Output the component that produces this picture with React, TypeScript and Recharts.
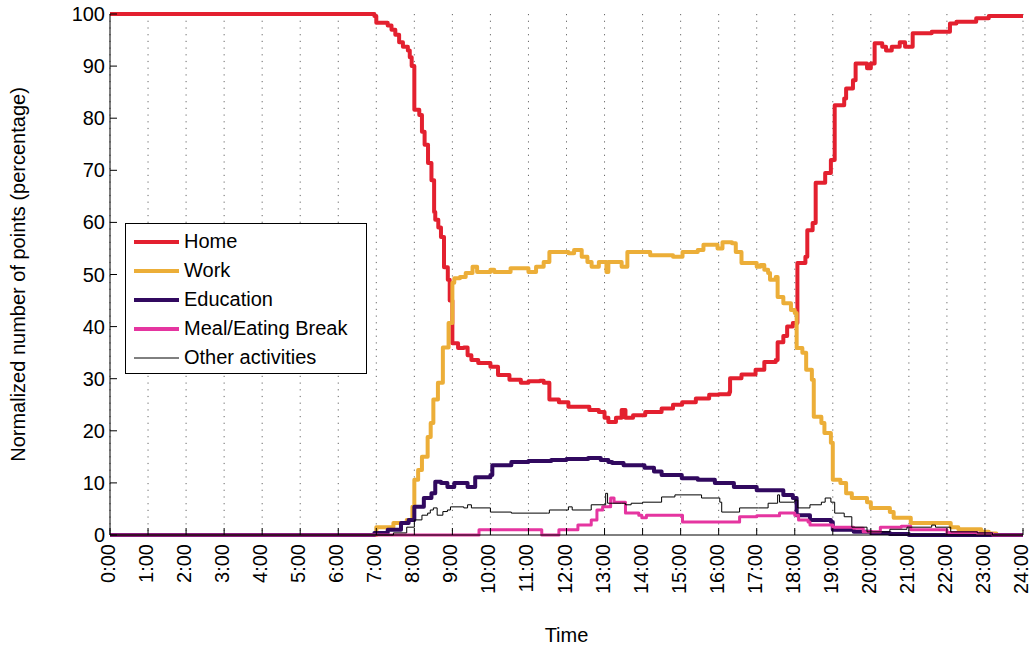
import React from 'react';
import { LineChart, Line, XAxis, YAxis, CartesianGrid, Legend } from 'recharts';

const hourTicks: number[] = [0, 1, 2, 3, 4, 5, 6, 7, 8, 9, 10, 11, 12, 13, 14, 15, 16, 17, 18, 19, 20, 21, 22, 23, 24];
const hourLabels: string[] = hourTicks.map((h) => `${h}:00`);
const yTicks: number[] = [0, 10, 20, 30, 40, 50, 60, 70, 80, 90, 100];

const seriesNames: string[] = ['Home', 'Work', 'Education', 'Meal/Eating Break', 'Other activities'];
const seriesColors: string[] = ['#e3202f', '#ecae38', '#31095f', '#e535a0', '#000000'];
const seriesWidths: number[] = [4, 4, 4, 3, 1];

// [hour, percentage]
const home: [number, number][] = [
  [0, 100], [6.5, 100], [6.95, 99.6], [7.0, 98.3], [7.3, 97.8], [7.4, 97], [7.5, 96], [7.6, 94.6], [7.7, 93.7],
  [7.83, 93], [7.88, 91.7], [7.93, 90], [8.0, 81.6], [8.13, 80.6], [8.2, 77.4], [8.27, 74.9], [8.36, 71.4],
  [8.45, 68.1], [8.52, 62], [8.55, 60.5], [8.63, 59], [8.7, 57.2], [8.78, 51.4], [8.88, 49], [8.93, 45],
  [9.0, 36.8], [9.15, 35.9], [9.3, 36], [9.4, 34.5], [9.5, 33.6], [9.68, 33], [10.0, 32.3], [10.2, 30.7],
  [10.5, 29.8], [10.8, 29.2], [11.0, 29.5], [11.3, 29.6], [11.4, 29.2], [11.55, 26], [11.8, 25.5], [12.05, 24.6],
  [12.5, 24.6], [12.6, 24], [12.85, 23.6], [13.0, 22.5], [13.1, 21.7], [13.3, 22.5], [13.45, 24], [13.55, 22.5],
  [13.75, 23], [14.07, 23.6], [14.5, 24.3], [14.8, 25], [15.04, 25.5], [15.4, 26.2], [15.75, 26.9], [16.0, 27],
  [16.28, 27.4], [16.3, 30.1], [16.6, 30.8], [16.97, 31.7], [17.2, 33.2], [17.5, 33.6], [17.55, 37], [17.7, 38.2],
  [17.8, 40], [17.95, 40.7], [18.07, 52.2], [18.28, 53.4], [18.33, 58.5], [18.47, 59.9], [18.55, 67.6], [18.8, 69.5],
  [18.95, 72], [19.05, 82.5], [19.3, 83.8], [19.35, 85.7], [19.53, 87.3], [19.6, 90.5], [19.8, 90.5], [19.9, 89.6],
  [20.0, 90.5], [20.1, 94.4], [20.3, 93.7], [20.4, 93], [20.55, 93.7], [20.76, 94.6], [20.9, 93.7], [21.1, 96.3],
  [21.6, 96.6], [22.08, 98.2], [22.25, 98.5], [22.77, 99.2], [23.1, 99.6], [24, 99.6],
];

const work: [number, number][] = [
  [0, 0], [6.95, 0], [7.0, 1.5], [7.45, 2.3], [7.8, 2.9], [7.95, 5.4], [8.0, 10.6], [8.1, 12.5], [8.2, 15],
  [8.35, 18.8], [8.43, 21.5], [8.5, 26], [8.62, 29.2], [8.75, 36], [8.9, 40.7], [9.0, 48.4], [9.05, 49.3],
  [9.2, 49.5], [9.35, 50.3], [9.53, 51.5], [9.65, 50.5], [10.0, 50.9], [10.1, 50.5], [10.53, 51.2], [11.0, 50.5],
  [11.2, 51.5], [11.4, 52.4], [11.55, 54.3], [12.05, 54.1], [12.2, 54.7], [12.4, 53.4], [12.55, 52.4], [12.66, 51.5],
  [12.85, 52.4], [13.05, 50.5], [13.1, 52.4], [13.45, 51.5], [13.6, 54.3], [13.95, 54.3], [14.2, 53.7], [14.8, 53.4],
  [15.05, 54.3], [15.45, 54.7], [15.6, 55.7], [15.97, 55], [16.1, 56.2], [16.35, 56], [16.45, 54.3], [16.6, 52.2],
  [17.0, 51.5], [17.1, 51.8], [17.2, 50.9], [17.3, 50.3], [17.35, 49], [17.5, 49.5], [17.55, 45.7], [17.7, 44.5],
  [17.9, 43.2], [18.0, 42.6], [18.05, 35.9], [18.2, 35], [18.3, 31.7], [18.45, 29.8], [18.5, 22.7], [18.7, 21.5],
  [18.78, 19.6], [18.95, 17.7], [19.0, 10.6], [19.2, 10], [19.35, 8], [19.5, 7.1], [19.9, 6.3], [20.0, 5.2],
  [20.5, 4.4], [20.6, 3.3], [21.05, 2.3], [22.1, 1.5], [22.3, 1.1], [22.9, 0.6], [23.1, 0.3], [23.3, 0], [24, 0],
];

const education: [number, number][] = [
  [0, 0], [6.8, 0], [6.95, 0.4], [7.3, 1], [7.65, 2.3], [7.85, 2.9], [8.0, 5.4], [8.25, 7.1], [8.45, 8],
  [8.55, 10.2], [8.7, 10], [8.87, 9.2], [9.05, 10], [9.4, 9.2], [9.6, 11.1], [10.0, 11.5], [10.05, 13.4],
  [10.55, 14], [11.0, 14.2], [11.6, 14.4], [12.0, 14.6], [12.57, 14.8], [12.9, 14.4], [13.1, 14], [13.2, 13.8],
  [13.5, 13.4], [14.05, 12.9], [14.3, 12.2], [14.5, 11.5], [15.03, 10.9], [15.45, 10.6], [15.9, 10], [16.4, 9.2],
  [17.0, 8.6], [17.7, 7.7], [17.95, 7.1], [18.05, 3.8], [18.4, 2.9], [18.95, 2.5], [19.0, 1], [19.55, 0.6],
  [20.0, 0.4], [20.5, 0.2], [21, 0], [24, 0],
];

const meal: [number, number][] = [
  [0, 0], [9.7, 1], [11.35, 0], [11.8, 1], [12.3, 1.9], [12.65, 2.9], [12.8, 4.8], [12.95, 5.4], [13.16, 7.1],
  [13.25, 6.3], [13.5, 6.3], [13.55, 4.2], [13.9, 3.8], [13.98, 3.3], [14.1, 3.8], [15.0, 3.8], [15.05, 2.5],
  [16.5, 2.5], [16.55, 3.5], [17.0, 3.7], [17.6, 4.2], [18.0, 3.8], [18.1, 2.9], [18.35, 2.5], [18.4, 1.9],
  [19.0, 1.5], [19.55, 1.3], [19.8, 0.6], [20.25, 1.5], [20.8, 1.7], [21.05, 1], [22.0, 0.5], [22.8, 0.3],
  [23.2, 0], [24, 0],
];

const other: [number, number][] = [
  [0, 0], [7.2, 0], [7.45, 0.4], [7.8, 1.5], [8.0, 2.9], [8.2, 3.8], [8.35, 4.2], [8.42, 4.8], [8.5, 5.2],
  [8.6, 3.8], [8.75, 4.5], [8.87, 4.8], [8.95, 5.4], [9.3, 5.2], [9.4, 5.8], [9.5, 5.2], [10.0, 4.4], [10.55, 4.2],
  [11.5, 4.2], [11.55, 4.8], [12.05, 5.4], [12.15, 4.8], [12.65, 5.8], [13.03, 8], [13.08, 6.1], [13.45, 6.1],
  [13.55, 5.8], [13.7, 6.1], [14.0, 6.3], [14.5, 7.3], [14.85, 7.7], [15.55, 7.1], [16.03, 6.3], [16.08, 4.4],
  [16.55, 5.2], [17.05, 5.2], [17.3, 6.1], [17.55, 7.7], [17.6, 6.3], [18.0, 6.7], [18.08, 5.2], [18.4, 5.8],
  [18.7, 6.3], [18.8, 7.1], [18.95, 6.3], [19.05, 4.2], [19.3, 3.5], [19.5, 1.5], [19.9, 0.6], [20.5, 1.1],
  [20.95, 1.5], [21.6, 1.9], [21.7, 1.5], [22.1, 0.6], [22.8, 0.4], [23.2, 0], [24, 0],
];

const seriesData: [number, number][][] = [home, work, education, meal, other];
const toRows = (pts: [number, number][]) => pts.map(([t, v]) => ({ t, v }));

const FONT = '"Liberation Sans", Arial, Helvetica, sans-serif';

const XTick = (props: any) => {
  const { x, y, payload } = props;
  const idx = hourTicks.indexOf(payload.value);
  const label = idx >= 0 ? hourLabels[idx] : String(payload.value);
  return (
    <g>
      <line x1={x} y1={y} x2={x} y2={y - 7} stroke="#000" strokeWidth={1} />
      <text
        x={0}
        y={0}
        transform={`translate(${x - 2},${y + 9}) rotate(-90)`}
        textAnchor="end"
        dominantBaseline="central"
        fontSize={20}
        fontFamily={FONT}
        fill="#000"
      >
        {label}
      </text>
    </g>
  );
};

const YTick = (props: any) => {
  const { x, y, payload } = props;
  return (
    <g>
      <line x1={x} y1={y} x2={x + 7} y2={y} stroke="#000" strokeWidth={1} />
      <text x={x - 5} y={y} textAnchor="end" dominantBaseline="central" fontSize={20} fontFamily={FONT} fill="#000">
        {payload.value}
      </text>
    </g>
  );
};

const LegendBox = (props: any) => {
  const payload: any[] = [...(props.payload || [])].sort(
    (a: any, b: any) => seriesNames.indexOf(a.value) - seriesNames.indexOf(b.value)
  );
  return (
    <div
      style={{
        width: 242,
        height: 151,
        boxSizing: 'border-box',
        border: '1px solid #000',
        background: '#fff',
        paddingTop: 3,
        fontFamily: FONT,
        fontSize: 20,
      }}
    >
      {payload.map((p: any) => {
        const i = seriesNames.indexOf(p.value);
        return (
          <div key={p.value} style={{ height: 29, display: 'flex', alignItems: 'center' }}>
            <svg width={46} height={10} style={{ marginLeft: 8, flex: 'none' }}>
              <line x1={0} y1={5} x2={45} y2={5} stroke={seriesColors[i]} strokeWidth={seriesWidths[i] === 1 ? 1 : 4} />
            </svg>
            <span style={{ color: '#000', whiteSpace: 'nowrap', marginLeft: 4 }}>{p.value}</span>
          </div>
        );
      })}
    </div>
  );
};

export default function App() {
  return (
    <div style={{ position: 'absolute', left: 0, top: 0, width: 1029, height: 650, background: '#fff' }}>
      <LineChart width={1029} height={650} margin={{ top: 14, right: 6, left: 0, bottom: 0 }}>
        <CartesianGrid horizontal={false} vertical stroke="#666" strokeDasharray="1.2 5.5" />
        <XAxis
          type="number"
          dataKey="t"
          domain={[0, 24]}
          ticks={hourTicks}
          interval={0}
          allowDataOverflow
          height={115}
          tickSize={0}
          tickMargin={0}
          tickLine={false}
          axisLine={{ stroke: '#000', strokeWidth: 1 }}
          tick={<XTick />}
          label={{ value: 'Time', position: 'insideBottom', offset: 8, fontSize: 20, fontFamily: FONT, fill: '#000' }}
        />
        <YAxis
          type="number"
          domain={[0, 100]}
          ticks={yTicks}
          interval={0}
          width={110}
          tickSize={0}
          tickMargin={0}
          tickLine={false}
          axisLine={{ stroke: '#000', strokeWidth: 1 }}
          tick={<YTick />}
          label={{
            value: 'Normalized number of points (percentage)',
            angle: -90,
            position: 'insideLeft',
            offset: 0,
            dx: 18,
            style: { textAnchor: 'middle' },
            fontSize: 20,
            fontFamily: FONT,
            fill: '#000',
          }}
        />
        {seriesData.map((pts, i) => (
          <Line
            key={seriesNames[i]}
            data={toRows(pts)}
            dataKey="v"
            name={seriesNames[i]}
            type="stepAfter"
            stroke={seriesColors[i]}
            strokeWidth={seriesWidths[i]}
            dot={false}
            activeDot={false}
            isAnimationActive={false}
            strokeLinejoin="round"
          />
        ))}
        <Legend
          layout="vertical"
          align="center"
          verticalAlign="middle"
          itemSorter={null as any}
          content={<LegendBox />}
          wrapperStyle={{ left: 125, top: 223, width: 242, height: 151 }}
        />
      </LineChart>
    </div>
  );
}
